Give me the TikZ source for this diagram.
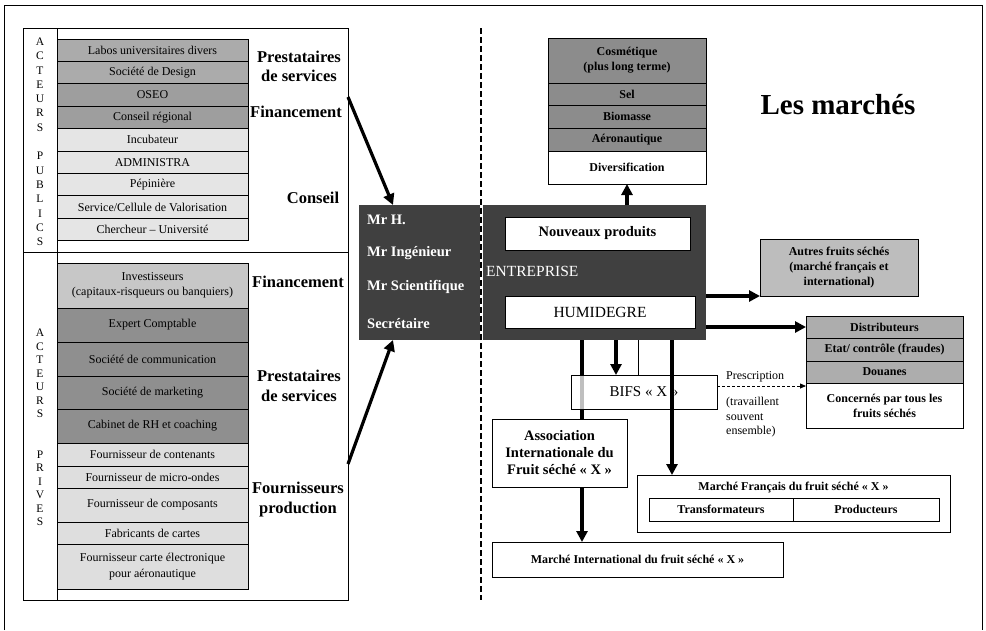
\documentclass[tikz,border=0pt]{standalone}
\usepackage{fontspec}
\setmainfont{Liberation Serif}
\usetikzlibrary{positioning,arrows.meta}

\definecolor{pubmid}{gray}{0.67}
\definecolor{pubdark}{gray}{0.62}
\definecolor{publight}{gray}{0.90}
\definecolor{privmid}{gray}{0.78}
\definecolor{privdark}{gray}{0.56}
\definecolor{privlight}{gray}{0.87}
\definecolor{mktgray}{gray}{0.55}
\definecolor{othergray}{gray}{0.74}
\definecolor{distgray}{gray}{0.68}
\definecolor{firmgray}{gray}{0.25}

\tikzset{
  actrow/.style={draw, outer sep=0pt, inner sep=1pt, align=center, line width=0.7pt,
    minimum width=191, font=\fontsize{12}{15.5}\selectfont},
  mktrow/.style={draw, outer sep=0pt, inner sep=1pt, align=center, line width=0.7pt,
    font=\bfseries\fontsize{12}{15}\selectfont},
  sidelabel/.style={align=center, font=\bfseries\fontsize{16.5}{19.5}\selectfont},
  vletter/.style={inner sep=0pt, font=\fontsize{11.5}{12}\selectfont},
  staffname/.style={anchor=west, inner sep=0pt, text=white, font=\bfseries\fontsize{14.5}{16}\selectfont},
  bigarrow/.style={line width=3.2pt, -{Triangle[length=11pt,width=11pt]}},
  plainbox/.style={draw, fill=white, outer sep=0pt, align=center, line width=0.7pt},
}

\begin{document}
\begin{tikzpicture}[x=1pt,y=-1pt]
\useasboundingbox (0,0) rectangle (986,630);
\draw[line width=1pt] (4,630) -- (4,5) -- (982,5) -- (982,630);

% acteurs
\node[draw, outer sep=0pt, line width=0.7pt, minimum width=325, minimum height=572] (panel) at (185.5,314) {};
\draw[line width=0.7pt] ([xshift=34pt]panel.north west) -- ([xshift=34pt]panel.south west);
\draw[line width=0.7pt] ([yshift=-224.5pt]panel.north west) -- ([yshift=-224.5pt]panel.north east);

\foreach \l/\y [count=\i] in {A/41.7,C/56,T/70.3,E/84.6,U/98.9,R/113.2,S/127.5,P/156.1,U/170.4,B/184.7,L/199,I/213.3,C/227.6,S/241.9}
  \node[vletter] (pl\i) at (40,\y) {\l};
\foreach \l/\y [count=\i] in {A/333,C/346.5,T/360,E/373.5,U/387,R/400.5,S/414,P/454.5,R/468,I/481.5,V/495,E/508.5,S/522}
  \node[vletter] (vl\i) at (40,\y) {\l};

% acteurs publics
\node[actrow, fill=pubmid, minimum height=22.4] (labos) at (152.5,50.2) {Labos universitaires divers};
\node[actrow, fill=pubmid, minimum height=22.4, below=0pt of labos] (design) {Société de Design};
\node[actrow, fill=pubdark, minimum height=22.4, below=0pt of design] (oseo) {OSEO};
\node[actrow, fill=pubdark, minimum height=22.4, below=0pt of oseo] (region) {Conseil régional};
\node[actrow, fill=publight, minimum height=22.4, below=0pt of region] (incub) {Incubateur};
\node[actrow, fill=publight, minimum height=22.4, below=0pt of incub] (admin) {ADMINISTRA};
\node[actrow, fill=publight, minimum height=22.4, below=0pt of admin] (pepin) {Pépinière};
\node[actrow, fill=publight, minimum height=22.4, below=0pt of pepin] (valo) {Service/Cellule de Valorisation};
\node[actrow, fill=publight, minimum height=22.4, below=0pt of valo] (cherch) {Chercheur -- Université};

% acteurs prives
\node[actrow, fill=privmid, minimum height=45] (invest) at (152.5,285.5) {Investisseurs\\(capitaux-risqueurs ou banquiers)};
\node[actrow, fill=privdark, minimum height=34, below=0pt of invest] (compta) {Expert Comptable};
\node[actrow, fill=privdark, minimum height=34, below=0pt of compta] (comm) {Société de communication};
\node[actrow, fill=privdark, minimum height=33, below=0pt of comm] (marketing) {Société de marketing};
\node[actrow, fill=privdark, minimum height=34, below=0pt of marketing] (rh) {Cabinet de RH et coaching};
\node[actrow, fill=privlight, minimum height=23, below=0pt of rh] (contenant) {Fournisseur de contenants};
\node[actrow, fill=privlight, minimum height=22, below=0pt of contenant] (microonde) {Fournisseur de micro-ondes};
\node[actrow, fill=privlight, minimum height=34, below=0pt of microonde] (composant) {Fournisseur de composants};
\node[actrow, fill=privlight, minimum height=22, below=0pt of composant] (cartes) {Fabricants de cartes};
\node[actrow, fill=privlight, minimum height=45, below=0pt of cartes] (carteaero) {Fournisseur carte électronique\\pour aéronautique};

\node[sidelabel] (prestpub) at (299,66.5) {Prestataires\\de services};
\node[sidelabel] (finpub) at (296,112) {Financement};
\node[sidelabel] (conseil) at (313,198) {Conseil};
\node[sidelabel] (finpriv) at (298,282) {Financement};
\node[sidelabel] (prestpriv) at (299,386) {Prestataires\\de services};
\node[sidelabel] (fourn) at (298,499.5) {Fournisseurs\\production};

% entreprise
\node[fill=firmgray, outer sep=0pt, minimum width=122, minimum height=135] (staff) at (420,272.5) {};
\node[fill=firmgray, outer sep=0pt, minimum width=223, minimum height=135] (firm) at (594.5,272.5) {};
\node[staffname] (mrh) at (367,220) {Mr H.};
\node[staffname] (mring) at (367,253) {Mr Ingénieur};
\node[staffname] (mrsci) at (367,287) {Mr Scientifique};
\node[staffname] (secr) at (367,324) {Secrétaire};
\node[plainbox, minimum width=185, minimum height=33, font=\bfseries\fontsize{14.5}{16}\selectfont] (newprod) at (597.5,233.5) {Nouveaux produits};
\node[anchor=west, inner sep=0pt, text=white, font=\fontsize{15.5}{17}\selectfont] (entr) at (486,271) {ENTREPRISE};
\node[plainbox, minimum width=190, minimum height=32, font=\fontsize{15.5}{17}\selectfont] (humi) at (600,312) {HUMIDEGRE};

\draw[white, line width=2.5pt] (481,205) -- (481,340);
\draw[line width=1.6pt, dash pattern=on 6pt off 3pt] (481,28) -- (481,600);

\draw[bigarrow] (panel.east |- 0,97) -- ([xshift=-27pt]staff.north);
\draw[bigarrow] (panel.east |- 0,464) -- ([xshift=-27pt]staff.south);

% marches
\node[font=\bfseries\fontsize{29}{32}\selectfont] (title) at (838,105) {Les marchés};

\node[mktrow, fill=mktgray, minimum width=158, minimum height=45] (cosm) at (627,60.5) {Cosmétique\\(plus long terme)};
\node[mktrow, fill=mktgray, minimum width=158, minimum height=22, below=0pt of cosm] (sel) {Sel};
\node[mktrow, fill=mktgray, minimum width=158, minimum height=23, below=0pt of sel] (biom) {Biomasse};
\node[mktrow, fill=mktgray, minimum width=158, minimum height=23, below=0pt of biom] (aero) {Aéronautique};
\node[mktrow, fill=white, minimum width=158, minimum height=33, below=0pt of aero] (divers) {Diversification};
\draw[bigarrow] (firm.north -| divers.south) -- (divers.south);

\node[mktrow, fill=othergray, minimum width=158, minimum height=57] (autres) at (839,267.5) {Autres fruits séchés\\(marché français et\\international)};
\draw[bigarrow] (firm.east |- autres.south) -- (autres.south west);

\node[mktrow, fill=distgray, minimum width=157, minimum height=22] (distrib) at (884.5,327) {Distributeurs};
\node[mktrow, fill=distgray, minimum width=157, minimum height=23, below=0pt of distrib] (etat) {Etat/ contrôle (fraudes)};
\node[mktrow, fill=distgray, minimum width=157, minimum height=22, below=0pt of etat] (douane) {Douanes};
\node[mktrow, fill=white, minimum width=157, minimum height=45, below=0pt of douane] (concern) {Concernés par tous les\\fruits séchés};
\draw[bigarrow] (firm.east |- distrib.west) -- (distrib.west);

% vers les marches du fruit seche
\node[plainbox, minimum width=291, minimum height=35, font=\bfseries\fontsize{12}{15}\selectfont] (intl) at (637.5,559.5) {Marché International du fruit séché « X »};
\draw[bigarrow] ([xshift=-12.5pt]firm.south) -- ([xshift=-12.5pt]firm.south |- intl.north);

\node[plainbox, fill opacity=0.75, text opacity=1, minimum width=146, minimum height=34, font=\fontsize{15}{17}\selectfont] (bifs) at (644,392) {BIFS « X »};
\node[plainbox, minimum width=135, minimum height=68, font=\bfseries\fontsize{14.5}{17}\selectfont] (assoc) at (559.5,453) {Association\\Internationale du\\Fruit séché « X »};
\draw[bigarrow] ([xshift=21.5pt]firm.south) -- ([xshift=21.5pt]firm.south |- bifs.north);
\draw[line width=0.7pt] ([xshift=43.5pt]firm.south) -- ([xshift=43.5pt]firm.south |- bifs.north);

\node[plainbox, minimum width=313, minimum height=57] (fr) at (793.5,503.5) {};
\node[font=\bfseries\fontsize{12}{15}\selectfont] (frtitle) at (793.5,488) {Marché Français du fruit séché « X »};
\node[plainbox, minimum width=144, minimum height=23, font=\bfseries\fontsize{12}{15}\selectfont] (transf) at (721,509.5) {Transformateurs};
\node[plainbox, minimum width=146, minimum height=23, font=\bfseries\fontsize{12}{15}\selectfont, right=0pt of transf] (prod) {Producteurs};
\draw[bigarrow] ([xshift=77.5pt]firm.south) -- ([xshift=77.5pt]firm.south |- fr.north);

\coordinate (presc) at ([yshift=6pt]bifs.east);
\draw[line width=0.8pt, dash pattern=on 3pt off 2pt, -{Triangle[length=6pt,width=5pt]}] (presc) -- (presc -| concern.west);
\node[anchor=west, inner sep=0pt, font=\fontsize{12}{14}\selectfont] (presctxt) at (726,377) {Prescription};
\node[anchor=north west, inner sep=0pt, align=left, font=\fontsize{12}{14.5}\selectfont] (ensemble) at (726,397) {(travaillent\\souvent\\ensemble)};
\end{tikzpicture}
\end{document}
